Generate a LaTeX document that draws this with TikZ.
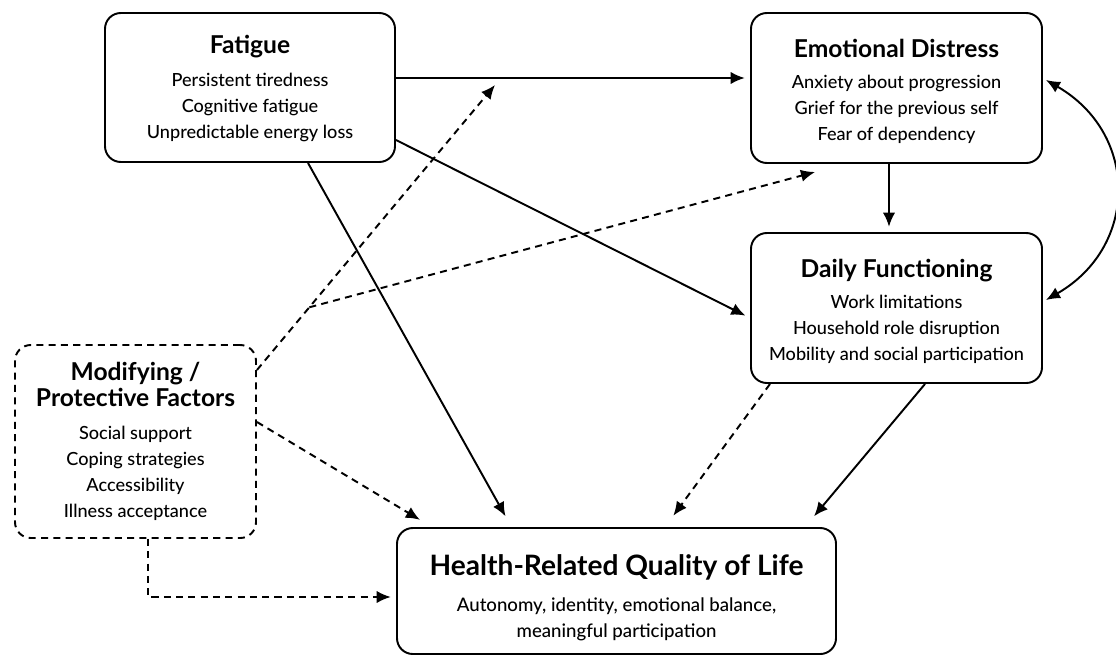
\documentclass[tikz,border=0pt]{standalone}
\usepackage{fontspec}
\setmainfont{Lato}[UprightFont={* Medium}, BoldFont={* Bold}]
\usepackage{tikz}
\usetikzlibrary{arrows.meta}

\newcommand{\boxtitle}[1]{{\fontsize{14}{15}\selectfont\bfseries #1}}

\begin{document}
\begin{tikzpicture}[
    factor/.style={draw, line width=1.1pt, rounded corners=9pt, align=center,
      inner sep=0pt, font=\fontsize{10.3}{14.8}\selectfont},
    modbox/.style={factor, dash pattern=on 4pt off 3pt},
    path/.style={line width=1.1pt, -{Latex[length=8pt,width=7pt]}},
    modpath/.style={path, dash pattern=on 4pt off 3pt},
  ]
  \useasboundingbox (0,0) rectangle (22.32,13.12);

  % Fatigue
  \node[factor, minimum width=5.8cm, minimum height=2.98cm] (fat) at (5.0,11.37)
    {\rule{0pt}{12pt}\boxtitle{Fatigue}\\[4pt]
     Persistent tiredness\\ Cognitive fatigue\\ Unpredictable energy loss};

  % Emotional distress
  \node[factor, minimum width=5.82cm, minimum height=3.0cm] (emo) at (17.93,11.36)
    {\rule{0pt}{14pt}\boxtitle{Emotional Distress}\\[3pt]
     Anxiety about progression\\ Grief for the previous self\\ Fear of dependency};

  % Daily functioning
  \node[factor, minimum width=5.82cm, minimum height=3.0cm] (daily) at (17.93,6.96)
    {\rule{0pt}{14pt}\boxtitle{Daily Functioning}\\[3pt]
     Work limitations\\ Household role disruption\\ Mobility and social participation};

  % Modifying / protective factors
  \node[modbox, minimum width=4.82cm, minimum height=3.86cm] (mod) at (2.71,4.29)
    {\boxtitle{Modifying /}\\ \boxtitle{Protective Factors}\\[4pt]
     Social support\\ Coping strategies\\ Accessibility\\ Illness acceptance};

  % Outcome
  \node[factor, minimum width=8.78cm, minimum height=2.52cm,
    font=\fontsize{10.6}{15.2}\selectfont] (hrq) at (12.33,1.3)
    {\rule{0pt}{20pt}{\fontsize{16}{18}\selectfont\bfseries Health-Related Quality of Life}\\[5pt]
     Autonomy, identity, emotional balance,\\ meaningful participation};

  % Direct paths
  \draw[path, shorten >=3pt] ([yshift=0.19cm]fat.east) -- ([yshift=0.2cm]emo.west);
  \draw[path, shorten >=3pt] ([yshift=-1.05cm]fat.east) -- ([yshift=-0.2cm]daily.west);
  \draw[path, shorten >=7pt] ([xshift=1.16cm]fat.south) -- ([xshift=-2.1cm]hrq.north);
  \draw[path, shorten >=3pt] ([xshift=-0.15cm]emo.south) -- ([xshift=-0.15cm]daily.north);
  \draw[path, {Latex[length=8pt,width=7pt]}-{Latex[length=8pt,width=7pt]}]
    ([shift={(0.06cm,0.16cm)}]emo.east) to[out=-30, in=30, looseness=1.25]
    ([shift={(0.06cm,0.16cm)}]daily.east);
  \draw[path, shorten >=8pt] ([xshift=0.57cm]daily.south) -- ([xshift=3.77cm]hrq.north);
  \draw[modpath, shorten >=8pt] ([xshift=-2.53cm]daily.south) -- ([xshift=0.97cm]hrq.north);

  % Moderating paths
  \coordinate (fatemo) at (9.9,11.42);
  \coordinate (emolow) at (16.3,9.68);
  \draw[modpath] ([yshift=1.43cm]mod.east) -- coordinate[pos=0.22] (split) (fatemo);
  \draw[modpath] (split) -- (emolow);
  \draw[modpath, shorten >=8pt] ([yshift=0.39cm]mod.east) -- ([xshift=-3.69cm]hrq.north);
  \draw[modpath, shorten >=3pt] ([xshift=0.25cm]mod.south) |- ([yshift=-0.12cm]hrq.west);
\end{tikzpicture}
\end{document}
